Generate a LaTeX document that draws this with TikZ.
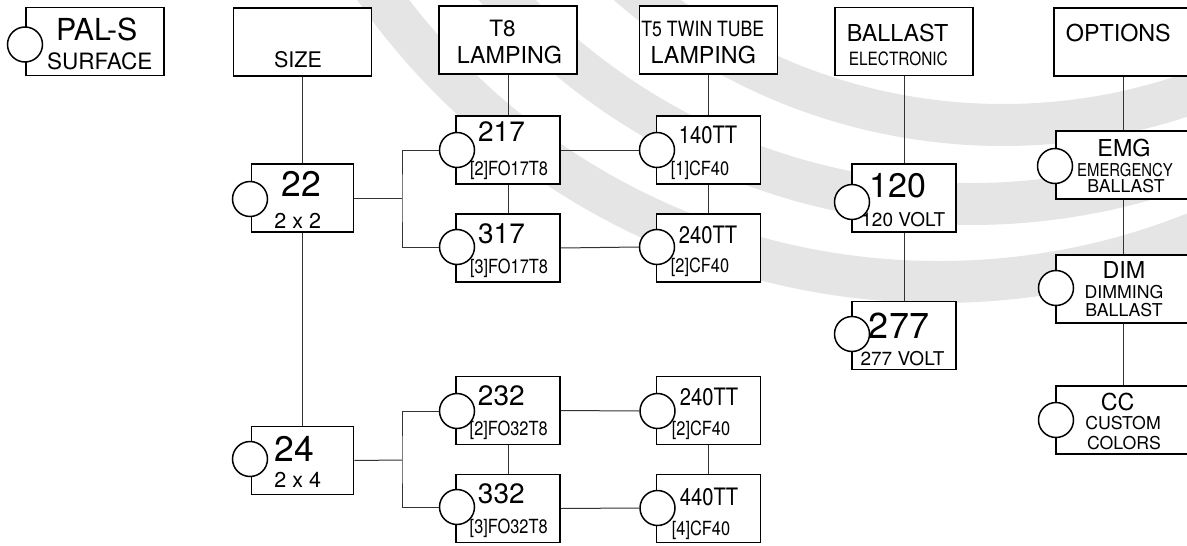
\documentclass[tikz,border=0pt]{standalone}
\usepackage{fontspec}
\setmainfont{TeX Gyre Heros}
\newfontfamily\condfont{TeX Gyre Heros}[FakeStretch=0.84]
\usepackage{tikz}

\newcommand{\fsz}[1]{\fontsize{#1}{#1}\selectfont}

\begin{document}
\begin{tikzpicture}[x=1pt, y=-1pt,
    box/.style={draw, line width=1.6pt, fill=white, inner sep=0pt, minimum height=68pt},
    hbox/.style={box, minimum width=138pt},
    sbox/.style={box, minimum width=102pt},
    cbox/.style={box, minimum width=104pt},
    obox/.style={box, minimum width=134pt},
    knob/.style={draw, circle, line width=1.5pt, fill=white, inner sep=0pt, minimum size=35pt},
    link/.style={line width=1pt, black!80},
    lbl/.style={inner sep=0pt, anchor=base},
    hd/.style={lbl, font=\fsz{23.3}},
    sm/.style={lbl, font=\fsz{17.7}},
    smc/.style={lbl, font=\condfont\fsz{17.7}},
    lamp/.style={lbl, font=\fsz{28}},
    lampc/.style={lbl, font=\condfont\fsz{24}},
    codec/.style={lbl, font=\condfont\fsz{19.5}},
    volt/.style={lbl, font=\fsz{19}}]
    \useasboundingbox (0,0) rectangle (1187,546);

    % watermark arcs
    \begin{scope}
        \clip (0,0) rectangle (1187,546);
        \draw[black!10, line width=42pt] (1003,-446) circle (571pt);
        \draw[black!10, line width=42pt] (971,-426) circle (630pt);
        \draw[black!10, line width=42pt] (939,-407) circle (689pt);
    \end{scope}

    % header boxes
    \node[hbox] (pal) at (95,41.5) {};
    \node[hbox] (size) at (302.5,42) {};
    \node[hbox] (t8) at (508,40) {};
    \node[hbox] (t5) at (708.5,40) {};
    \node[hbox] (ballast) at (904,41.5) {};
    \node[hbox] (options) at (1123,42) {};

    % size column
    \node[sbox] (s22) at (302.5,198) {};
    \node[sbox] (s24) at (302.5,460.5) {};

    % T8 column
    \node[cbox] (l217) at (508,150) {};
    \node[cbox] (l317) at (508,248) {};
    \node[cbox] (l232) at (508,410.5) {};
    \node[cbox] (l332) at (508,508.5) {};

    % T5 column
    \node[cbox] (l140) at (708.5,150) {};
    \node[cbox] (l240) at (708.5,248) {};
    \node[cbox] (m240) at (708.5,410.5) {};
    \node[cbox] (l440) at (708.5,508.5) {};

    % ballast column
    \node[cbox] (v120) at (904,198) {};
    \node[cbox] (v277) at (904,335.5) {};

    % options column
    \node[obox] (emg) at (1123,165) {};
    \node[obox] (dim) at (1123,289) {};
    \node[obox] (cc) at (1123,420) {};

    % selection circles
    \node[knob] (kpal) at (25,44.5) {};
    \node[knob] (k22) at (250,199) {};
    \node[knob] (k24) at (250,459) {};
    \node[knob] (k217) at (457,150) {};
    \node[knob] (k317) at (457,247) {};
    \node[knob] (k232) at (457,411) {};
    \node[knob] (k332) at (457,507) {};
    \node[knob] (k140) at (657,150) {};
    \node[knob] (k240) at (657,247) {};
    \node[knob] (j240) at (657.5,411) {};
    \node[knob] (k440) at (657.5,508) {};
    \node[knob] (k120) at (852,202) {};
    \node[knob] (k277) at (852,334) {};
    \node[knob] (kemg) at (1055,166) {};
    \node[knob] (kdim) at (1056,288) {};
    \node[knob] (kcc) at (1056,420) {};

    % labels
    \node[lbl, font=\fsz{30.3}] (palA) at (96.7,40) {PAL-S};
    \node[lbl, font=\fsz{22.5}] (palB) at (99.7,69) {SURFACE};
    \node[lbl, font=\fsz{21.5}] (sizeA) at (298,67.7) {SIZE};
    \node[lbl, font=\fsz{35.5}] (s22A) at (301,196.7) {22};
    \node[lbl, font=\fsz{21.5}] (s22B) at (297.7,228.3) {2 x 2};
    \node[lbl, font=\fsz{35.5}] (s24A) at (294.5,461.7) {24};
    \node[lbl, font=\fsz{21.5}] (s24B) at (297.7,487.3) {2 x 4};

    \node[lbl, font=\fsz{22.5}] (t8A) at (502.5,36.7) {T8};
    \node[hd] (t8B) at (509.5,63.3) {LAMPING};
    \node[lamp] (l217A) at (501.5,141.7) {217};
    \node[codec] (l217B) at (509,175) {[2]FO17T8};
    \node[lamp] (l317A) at (501.5,243.3) {317};
    \node[codec] (l317B) at (509,273.3) {[3]FO17T8};
    \node[lamp] (l232A) at (501.3,405) {232};
    \node[codec] (l232B) at (508.7,435.7) {[2]FO32T8};
    \node[lamp] (l332A) at (501.3,503.3) {332};
    \node[codec] (l332B) at (508.7,533.3) {[3]FO32T8};

    \node[lbl, font=\condfont\fsz{21}] (t5A) at (702.8,36) {T5 TWIN TUBE};
    \node[hd] (t5B) at (703.3,63.3) {LAMPING};
    \node[lampc] (l140A) at (708,143.3) {140TT};
    \node[codec] (l140B) at (700,175) {[1]CF40};
    \node[lampc] (l240A) at (708,243.3) {240TT};
    \node[codec] (l240B) at (700,272.7) {[2]CF40};
    \node[lampc] (m240A) at (709,405) {240TT};
    \node[codec] (m240B) at (701,435.7) {[2]CF40};
    \node[lampc] (l440A) at (709,505) {440TT};
    \node[codec] (l440B) at (701,535) {[4]CF40};

    \node[hd] (ballastA) at (897.5,41.7) {BALLAST};
    \node[lbl, font=\condfont\fsz{18.3}] (ballastB) at (898.3,65.7) {ELECTRONIC};
    \node[lbl, font=\fsz{34}] (v120A) at (898.3,197.3) {120};
    \node[volt] (v120B) at (903.3,226.7) {120 VOLT};
    \node[lbl, font=\fsz{36}] (v277A) at (899,338.3) {277};
    \node[volt] (v277B) at (902.5,365) {277 VOLT};

    \node[hd] (optionsA) at (1118.3,41) {OPTIONS};
    \node[hd] (emgA) at (1124,156.7) {EMG};
    \node[smc] (emgB) at (1125,176) {EMERGENCY};
    \node[sm] (emgC) at (1126,192.7) {BALLAST};
    \node[hd] (dimA) at (1124,278.3) {DIM};
    \node[sm] (dimB) at (1124,298.3) {DIMMING};
    \node[sm] (dimC) at (1124,316) {BALLAST};
    \node[hd] (ccA) at (1117.6,410) {CC};
    \node[sm] (ccB) at (1123,429.3) {CUSTOM};
    \node[sm] (ccC) at (1124,449) {COLORS};

    % connectors
    \draw[link] (size.south) -- (s22.north);
    \draw[link] (s22.south) -- (s24.north);
    \coordinate (j22) at (402,198);
    \coordinate (j24) at (402,460);
    \draw[link] (s22.east) -- (j22);
    \draw[link] (k217.west) -| (j22) |- (k317.west);
    \draw[link] (s24.east) -- (j24);
    \draw[link] (k232.west) -| (j24) |- (k332.west);

    \draw[link] (t8.south) -- (l217.north);
    \draw[link] (l217.south) -- (l317.north);
    \draw[link] (l232.south) -- (l332.north);
    \draw[link] (l217.east) -- (k140.west);
    \draw[link] (l317.east) -- (k240.west);
    \draw[link] (l232.east) -- (j240.west);
    \draw[link] (l332.east) -- (k440.west);

    \draw[link] (t5.south) -- (l140.north);
    \draw[link] (l140.south) -- (l240.north);
    \draw[link] (m240.south) -- (l440.north);

    \draw[link] (ballast.south) -- (v120.north);
    \draw[link] (v120.south) -- (v277.north);

    \draw[link] (options.south) -- (emg.north);
    \draw[link] (emg.south) -- (dim.north);
    \draw[link] (dim.south) -- (cc.north);
\end{tikzpicture}
\end{document}
